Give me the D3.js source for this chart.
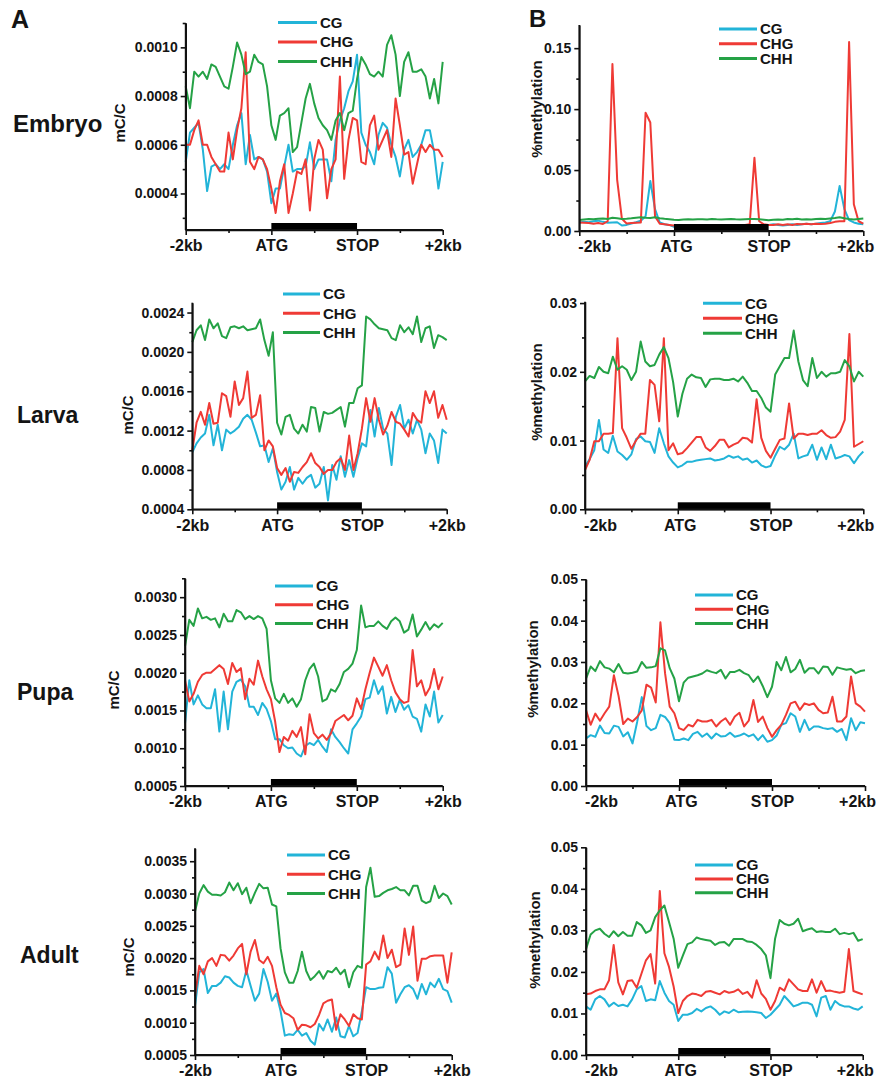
<!DOCTYPE html>
<html><head><meta charset="utf-8">
<script src="https://cdn.jsdelivr.net/npm/d3@7/dist/d3.min.js"></script>
<style>
body{margin:0;background:#fff}
svg{display:block}
text{font-family:"Liberation Sans",Arial,Helvetica,sans-serif;font-weight:bold;fill:#141414}
</style>
</head><body>
<svg id="chart" width="880" height="1082"></svg>
<script>
// ---------- categories / labels ----------
const xTickLabels = ["-2kb","ATG","STOP","+2kb"];
const seriesNames = ["CG","CHG","CHH"];
const seriesColors = ["#22b4d8","#ef3a35","#25a246"];
const stages = ["Embryo","Larva","Pupa","Adult"];

// ---------- A: mC/C ----------
const embryoA_CG = [0.00053,0.00065,0.00067,0.00069,0.00058,0.00041,0.00051,0.00052,0.0005,0.00052,
0.0005,0.0006,0.00068,0.00073,0.00052,0.00064,0.00054,0.00055,0.00054,0.00049,
0.00036,0.00042,0.00042,0.00051,0.0006,0.00049,0.0005,0.0005,0.00051,0.00061,
0.0005,0.00054,0.00054,0.00054,0.00045,0.00062,0.0007,0.00075,0.00082,0.00086,
0.00097,0.00065,0.0006,0.00057,0.00052,0.00064,0.00069,0.00067,0.0006,0.00055,
0.00047,0.00058,0.00062,0.00055,0.00057,0.0006,0.00066,0.00066,0.00057,0.00042,0.00053];
const embryoA_CHG = [0.0006,0.0006,0.00066,0.0007,0.0006,0.0006,0.00055,0.00052,0.00049,0.00049,
0.00065,0.00054,0.00066,0.00075,0.00098,0.00053,0.0005,0.00055,0.00054,0.0005,
0.00042,0.00032,0.00045,0.00052,0.00032,0.0004,0.00049,0.00048,0.00054,0.00033,
0.00054,0.00062,0.00058,0.00038,0.0005,0.00054,0.00088,0.00046,0.00062,0.00071,
0.0007,0.00053,0.00052,0.00068,0.00072,0.00058,0.00062,0.00066,0.00055,0.00079,
0.00068,0.00056,0.00057,0.00044,0.00052,0.0006,0.00057,0.0006,0.00058,0.00058,0.00055];
const embryoA_CHH = [0.00084,0.00075,0.0009,0.00088,0.0009,0.00087,0.00093,0.00092,0.00088,0.00084,
0.00083,0.00092,0.00102,0.00097,0.00089,0.0009,0.00097,0.00094,0.00093,0.00084,
0.00068,0.00062,0.00072,0.00073,0.00075,0.00057,0.00059,0.00069,0.00079,0.00085,
0.00077,0.00071,0.00068,0.00066,0.00062,0.0007,0.00073,0.00066,0.00073,0.00074,
0.00087,0.00096,0.00093,0.00089,0.00088,0.0009,0.00088,0.00101,0.00105,0.00097,
0.0008,0.00094,0.00098,0.0009,0.0009,0.00091,0.00088,0.00079,0.00087,0.00077,0.00094];

const larvaA_CG = [0.00098,0.00107,0.00113,0.00117,0.00136,0.00105,0.00126,0.001,0.00121,0.00117,
0.0012,0.00124,0.00132,0.00136,0.00131,0.00118,0.00104,0.00105,0.00088,0.00102,
0.00078,0.0006,0.00068,0.00083,0.0006,0.00072,0.00066,0.00072,0.00075,0.00062,
0.00066,0.00083,0.00049,0.00085,0.0007,0.00094,0.00073,0.0009,0.00073,0.00092,
0.00107,0.00104,0.00141,0.00114,0.00143,0.00122,0.00117,0.00085,0.00134,0.00146,
0.00122,0.00131,0.00117,0.00131,0.00121,0.00097,0.00117,0.0011,0.00087,0.00121,0.00117];
const larvaA_CHG = [0.001,0.00128,0.00139,0.00126,0.00148,0.00127,0.00128,0.00158,0.00155,0.00134,
0.0017,0.00146,0.00153,0.0018,0.00133,0.00136,0.00156,0.001,0.0011,0.00104,
0.00082,0.00075,0.00082,0.00068,0.00078,0.00077,0.00083,0.00088,0.00097,0.00087,
0.00083,0.00076,0.0008,0.0008,0.00088,0.00092,0.0008,0.00115,0.0008,0.00097,
0.00122,0.00153,0.00129,0.00153,0.00131,0.00116,0.00125,0.00139,0.00129,0.00127,
0.00121,0.00114,0.00138,0.00131,0.00128,0.0016,0.00148,0.0016,0.00133,0.00146,0.00131];
const larvaA_CHH = [0.0021,0.00222,0.00227,0.00212,0.00233,0.00224,0.00229,0.00216,0.00214,0.00225,
0.00226,0.00224,0.00226,0.00222,0.00223,0.00224,0.00233,0.00212,0.00196,0.0022,
0.00128,0.00116,0.00134,0.00136,0.00122,0.00117,0.00126,0.00119,0.00144,0.00143,
0.00119,0.00139,0.00137,0.00138,0.00141,0.00144,0.00124,0.00148,0.00148,0.00163,
0.00166,0.00236,0.00233,0.00228,0.00224,0.00223,0.00222,0.00214,0.00212,0.00227,
0.0022,0.00225,0.00218,0.00236,0.0021,0.00224,0.00226,0.00204,0.00217,0.00215,0.00212];

const pupaA_CG = [0.00133,0.0019,0.00158,0.0017,0.00158,0.00153,0.00153,0.00178,0.00122,0.00175,
0.00125,0.00175,0.00188,0.00191,0.00182,0.00155,0.00155,0.00144,0.0016,0.00152,
0.00136,0.00112,0.00112,0.00104,0.001,0.00101,0.00093,0.00089,0.00103,0.00107,
0.00104,0.00111,0.00102,0.00095,0.00125,0.00115,0.00108,0.001,0.00093,0.00125,
0.00133,0.00142,0.00165,0.00167,0.0019,0.00172,0.00182,0.00146,0.00168,0.00148,
0.00164,0.00151,0.00157,0.00142,0.00139,0.00122,0.00158,0.00142,0.00175,0.00134,0.00144];
const pupaA_CHG = [0.0019,0.00162,0.00172,0.00188,0.00197,0.002,0.002,0.00205,0.0021,0.00205,
0.00185,0.00213,0.00201,0.00206,0.00165,0.00192,0.00184,0.00216,0.00195,0.00178,
0.00165,0.00135,0.00095,0.00115,0.0011,0.00123,0.00115,0.00128,0.00092,0.00145,
0.0012,0.00113,0.00118,0.00111,0.0012,0.00136,0.0014,0.00144,0.00137,0.00143,
0.00166,0.00152,0.00178,0.002,0.0022,0.00208,0.00196,0.0021,0.0019,0.00174,
0.00165,0.0016,0.00162,0.0023,0.00182,0.0019,0.0017,0.0018,0.00205,0.00178,0.00195];
const pupaA_CHH = [0.00235,0.0027,0.00262,0.00285,0.00272,0.00274,0.0027,0.00272,0.0026,0.00278,
0.00268,0.00268,0.00283,0.0028,0.00271,0.00275,0.00271,0.00275,0.00272,0.00258,
0.0019,0.00166,0.0016,0.00172,0.0016,0.00166,0.00155,0.00165,0.0019,0.00205,
0.00212,0.00195,0.00162,0.00165,0.00178,0.00175,0.00185,0.00201,0.00205,0.00212,
0.0023,0.00289,0.0026,0.00262,0.00262,0.00268,0.00262,0.00258,0.00268,0.00273,
0.00268,0.00253,0.00257,0.00277,0.00248,0.00257,0.00267,0.00257,0.00264,0.0026,0.00266];

const adultA_CG = [0.00126,0.00178,0.00183,0.00146,0.00157,0.00157,0.00162,0.00172,0.0017,0.00162,
0.00157,0.00155,0.00181,0.00157,0.00134,0.00145,0.00183,0.00163,0.00134,0.00145,
0.00118,0.0008,0.00082,0.00081,0.00089,0.0008,0.00084,0.00072,0.00066,0.00098,
0.00088,0.00105,0.00086,0.00108,0.00079,0.00077,0.00095,0.00079,0.00084,0.00118,
0.00155,0.00152,0.00152,0.00154,0.00155,0.00186,0.00176,0.00131,0.00144,0.00155,
0.00158,0.00152,0.00137,0.0016,0.00144,0.00162,0.00155,0.00168,0.00152,0.00149,0.00131];
const adultA_CHG = [0.00141,0.00188,0.00175,0.00195,0.002,0.00188,0.00205,0.00204,0.00196,0.00204,
0.00215,0.00222,0.00175,0.0021,0.00228,0.00197,0.00192,0.00202,0.00188,0.00155,
0.00128,0.00115,0.00112,0.00107,0.00089,0.00097,0.00096,0.00093,0.00098,0.00112,
0.0013,0.00134,0.00136,0.00089,0.00113,0.00105,0.00095,0.00113,0.00107,0.00105,
0.0019,0.00195,0.0021,0.00198,0.00235,0.002,0.00213,0.00186,0.0019,0.00246,
0.00205,0.00249,0.00165,0.00199,0.00199,0.00203,0.00204,0.00204,0.00204,0.00162,0.00209];
const adultA_CHH = [0.00272,0.003,0.00313,0.00303,0.00298,0.00298,0.00297,0.00302,0.00317,0.00305,
0.00316,0.00299,0.00309,0.00285,0.00301,0.00315,0.00308,0.00309,0.00283,0.0028,
0.00215,0.00178,0.00162,0.00162,0.0018,0.0021,0.0018,0.00166,0.00172,0.0018,
0.00168,0.0018,0.00178,0.00185,0.00175,0.00182,0.00155,0.00178,0.00188,0.00185,
0.0031,0.0034,0.00295,0.00296,0.00301,0.00305,0.00307,0.0031,0.00305,0.00305,
0.00297,0.00312,0.00312,0.00289,0.00285,0.00288,0.00312,0.00293,0.003,0.00296,0.00283];

// ---------- B: %methylation ----------
const embryoB_CG = [0.007,0.0075,0.0072,0.008,0.0085,0.0075,0.0068,0.007,0.0072,0.0045,
0.005,0.0062,0.0072,0.0085,0.012,0.041,0.018,0.007,0.0055,0.005,
0.0035,0.003,0.0028,0.003,0.0032,0.003,0.0028,0.003,0.0031,0.003,
0.0029,0.003,0.0032,0.003,0.0031,0.003,0.0029,0.0032,0.0035,0.004,
0.005,0.0055,0.005,0.0045,0.005,0.0055,0.005,0.0055,0.006,0.0055,
0.006,0.0065,0.007,0.008,0.016,0.037,0.018,0.009,0.007,0.006,0.0055];
const embryoB_CHG = [0.007,0.0068,0.0065,0.006,0.0065,0.0058,0.008,0.137,0.042,0.01,
0.0062,0.0065,0.0068,0.007,0.097,0.089,0.012,0.006,0.0055,0.005,
0.0045,0.004,0.0042,0.004,0.0045,0.0042,0.004,0.0045,0.0042,0.004,
0.0045,0.0042,0.004,0.0045,0.0048,0.005,0.0055,0.06,0.008,0.0055,
0.005,0.005,0.0055,0.005,0.0055,0.005,0.0058,0.0055,0.006,0.0055,
0.006,0.0058,0.006,0.0065,0.0075,0.008,0.008,0.155,0.022,0.008,0.006];
const embryoB_CHH = [0.009,0.0095,0.0098,0.0096,0.01,0.0102,0.0098,0.0108,0.0105,0.0098,
0.01,0.0104,0.0109,0.0112,0.0108,0.0106,0.0112,0.0105,0.01,0.0097,
0.0093,0.0091,0.0095,0.0096,0.0094,0.0097,0.0096,0.0095,0.0098,0.0096,
0.0095,0.0097,0.0099,0.0096,0.0094,0.0096,0.0098,0.0099,0.0096,0.0092,
0.0088,0.0093,0.0095,0.0092,0.0098,0.0096,0.01,0.0095,0.0097,0.0094,
0.0098,0.0101,0.0099,0.0103,0.0106,0.0112,0.0104,0.0098,0.0095,0.0099,0.0103];

const larvaB_CG = [0.0062,0.0073,0.0086,0.013,0.0087,0.0082,0.0107,0.0084,0.0079,0.0072,
0.008,0.0102,0.0106,0.0099,0.0098,0.0082,0.0118,0.0096,0.0077,0.0068,
0.0061,0.0064,0.0069,0.0069,0.0071,0.0072,0.0073,0.0074,0.0071,0.0072,
0.0074,0.0078,0.0075,0.0077,0.0072,0.0074,0.0068,0.0071,0.0064,0.0061,
0.0063,0.0078,0.0091,0.0087,0.0094,0.011,0.0074,0.0077,0.0079,0.0094,
0.0072,0.009,0.0073,0.0094,0.0074,0.0076,0.0079,0.0077,0.0067,0.0077,0.0084];
const larvaB_CHG = [0.0057,0.0072,0.0099,0.0099,0.011,0.011,0.0111,0.0249,0.0118,0.0104,
0.0088,0.01,0.011,0.011,0.0188,0.0181,0.0128,0.0249,0.0086,0.0096,
0.008,0.0082,0.0089,0.0097,0.0105,0.0105,0.009,0.0085,0.0092,0.0101,
0.0101,0.009,0.0094,0.0097,0.0104,0.0103,0.0097,0.016,0.0104,0.0085,
0.0075,0.0088,0.0101,0.0103,0.0154,0.0103,0.011,0.011,0.0108,0.011,
0.011,0.0115,0.0108,0.0104,0.0105,0.0113,0.013,0.0255,0.0091,0.0095,0.0099];
const larvaB_CHH = [0.0186,0.0194,0.0191,0.0207,0.02,0.0198,0.0222,0.0203,0.0208,0.0203,
0.0188,0.02,0.0244,0.0215,0.0208,0.021,0.0225,0.0236,0.022,0.0185,
0.0135,0.0168,0.019,0.0196,0.0192,0.0191,0.0178,0.0189,0.019,0.019,
0.0188,0.0188,0.019,0.0186,0.0193,0.0184,0.0172,0.0172,0.0162,0.0148,
0.0142,0.0196,0.0208,0.022,0.022,0.026,0.0215,0.0188,0.0179,0.022,
0.0191,0.02,0.0193,0.0198,0.0198,0.02,0.0217,0.0208,0.0186,0.02,0.0193];

const pupaB_CG = [0.0115,0.0123,0.0119,0.0146,0.0128,0.0127,0.0146,0.0143,0.012,0.013,
0.0103,0.0155,0.0215,0.0145,0.0135,0.014,0.0172,0.0167,0.0152,0.0112,
0.0111,0.0115,0.0111,0.0126,0.0131,0.0119,0.0127,0.0115,0.0127,0.012,
0.0121,0.0129,0.0119,0.0122,0.0127,0.012,0.0125,0.0111,0.0123,0.0107,
0.0111,0.0122,0.0148,0.0152,0.0176,0.0168,0.0131,0.016,0.0135,0.0144,
0.0144,0.014,0.0138,0.014,0.0131,0.0138,0.0111,0.0164,0.0135,0.0154,0.0152];
const pupaB_CHG = [0.0184,0.0148,0.0175,0.0158,0.0176,0.0192,0.0268,0.0218,0.015,0.0163,
0.0156,0.0167,0.0183,0.0245,0.0238,0.0202,0.0396,0.0273,0.0192,0.0176,
0.014,0.0135,0.0148,0.0144,0.016,0.0156,0.0156,0.016,0.0144,0.0156,
0.0164,0.0148,0.0168,0.0177,0.0144,0.0158,0.0208,0.0155,0.0168,0.014,
0.0119,0.0135,0.0148,0.0172,0.02,0.0204,0.0184,0.02,0.0196,0.02,
0.0184,0.0176,0.0178,0.0216,0.0156,0.0156,0.0168,0.0265,0.02,0.0192,0.018];
const pupaB_CHH = [0.026,0.0289,0.0278,0.0302,0.0287,0.0284,0.0275,0.0295,0.0274,0.0272,
0.0274,0.0277,0.03,0.0286,0.0287,0.029,0.0333,0.0328,0.0285,0.026,
0.0205,0.025,0.0262,0.0265,0.0268,0.0272,0.028,0.0276,0.0273,0.0281,
0.026,0.0276,0.0276,0.0281,0.0273,0.0268,0.0252,0.0265,0.0242,0.0215,
0.024,0.03,0.028,0.0312,0.0275,0.0283,0.0305,0.0274,0.0285,0.0285,
0.0272,0.0289,0.0288,0.0269,0.0287,0.0284,0.0281,0.0283,0.0273,0.0278,0.028];

const adultB_CG = [0.0117,0.0109,0.0134,0.0142,0.0134,0.0117,0.0126,0.0118,0.0121,0.0117,
0.0134,0.0158,0.0166,0.013,0.0134,0.0132,0.0178,0.015,0.013,0.0121,
0.0082,0.0097,0.0097,0.0101,0.0111,0.0105,0.0113,0.0117,0.0109,0.0097,
0.0105,0.0101,0.0109,0.0103,0.0104,0.0105,0.0104,0.0103,0.0101,0.0089,
0.0097,0.0109,0.0121,0.0142,0.013,0.0117,0.0121,0.0126,0.0126,0.0121,
0.0093,0.0138,0.0142,0.0109,0.013,0.0121,0.0117,0.0117,0.0112,0.0109,0.0117];
const adultB_CHG = [0.0146,0.0148,0.0154,0.0158,0.0158,0.018,0.0265,0.0175,0.0146,0.0178,
0.018,0.0162,0.0195,0.0228,0.0243,0.0172,0.0395,0.0245,0.0212,0.0165,
0.0101,0.013,0.0142,0.0148,0.0146,0.0142,0.0152,0.0154,0.015,0.0146,
0.0154,0.015,0.0152,0.0158,0.0147,0.0152,0.0138,0.018,0.0148,0.0135,
0.0109,0.013,0.0162,0.0155,0.0182,0.017,0.0158,0.0154,0.0154,0.0182,
0.015,0.0178,0.0154,0.0155,0.0152,0.015,0.0152,0.0255,0.0154,0.015,0.0146];
const adultB_CHH = [0.0255,0.029,0.03,0.0304,0.0292,0.0284,0.0298,0.0286,0.0296,0.0287,
0.0287,0.032,0.0312,0.0294,0.03,0.0332,0.0348,0.036,0.032,0.028,
0.021,0.0239,0.0267,0.0271,0.0283,0.0279,0.0277,0.0275,0.0265,0.0271,
0.0272,0.0263,0.0279,0.0279,0.0279,0.0273,0.0272,0.0265,0.0255,0.024,
0.0185,0.028,0.0325,0.0316,0.0312,0.0316,0.0328,0.0298,0.0302,0.0305,
0.0296,0.0298,0.0296,0.0296,0.0304,0.0291,0.0294,0.0291,0.0294,0.0275,0.0279];

// ---------- y ticks ----------
const yTicksEmbryoA = [0.0004,0.0006,0.0008,0.0010];
const yTicksLarvaA  = [0.0004,0.0008,0.0012,0.0016,0.0020,0.0024];
const yTicksPupaA   = [0.0005,0.0010,0.0015,0.0020,0.0025,0.0030];
const yTicksAdultA  = [0.0005,0.0010,0.0015,0.0020,0.0025,0.0030,0.0035];
const yTicksEmbryoB = [0.00,0.05,0.10,0.15];
const yTicksLarvaB  = [0.00,0.01,0.02,0.03];
const yTicksPupaB   = [0.00,0.01,0.02,0.03,0.04,0.05];
const yTicksAdultB  = [0.00,0.01,0.02,0.03,0.04,0.05];

// ---------- panel layout ----------
const shiftA = [0,0,0,0], shiftB = [15,2,0,-8];
const panels = [
 {stage:0, series:[embryoA_CG,embryoA_CHG,embryoA_CHH], dom:[0.00025,0.0011], ticks:yTicksEmbryoA, fmt:".4f", minor:0.0001,
  box:[185.7,442.7,23,230], leg:[278,317,22.5,19.5], yl:["mC/C",125,123], st:[13,132,24], xs:shiftA},
 {stage:1, series:[larvaA_CG,larvaA_CHG,larvaA_CHH], dom:[0.0004,0.0025], ticks:yTicksLarvaA, fmt:".4f", minor:0.0002,
  box:[192.3,446.7,302.7,509.3], leg:[283,320,294,19.2], yl:["mC/C",133,415], st:[17,423,23], xs:shiftA},
 {stage:2, series:[pupaA_CG,pupaA_CHG,pupaA_CHH], dom:[0.0005,0.00325], ticks:yTicksPupaA, fmt:".4f", minor:0.00025,
  box:[185,442.7,578.3,786], leg:[275,313,586,18.7], yl:["mC/C",119,690], st:[17,700,23], xs:shiftA},
 {stage:3, series:[adultA_CG,adultA_CHG,adultA_CHH], dom:[0.0005,0.0037], ticks:yTicksAdultA, fmt:".4f", minor:0.00025,
  box:[195,451.7,848.3,1055], leg:[287,325,855,19.2], yl:["mC/C",134,957], st:[20,963,23], xs:shiftA},
 {series:[embryoB_CG,embryoB_CHG,embryoB_CHH], dom:[0,0.169], ticks:yTicksEmbryoB, fmt:".2f", minor:0.025,
  box:[579.3,863.3,25,231], leg:[719,757,29,14.7], yl:["%methylation",542,109], xs:shiftB},
 {series:[larvaB_CG,larvaB_CHG,larvaB_CHH], dom:[0,0.0302], ticks:yTicksLarvaB, fmt:".2f", minor:0.005,
  box:[585,863.3,301.7,509.3], leg:[703,742,303.3,15], yl:["%methylation",542,392], xs:shiftB},
 {series:[pupaB_CG,pupaB_CHG,pupaB_CHH], dom:[0,0.05], ticks:yTicksPupaB, fmt:".2f", minor:0.005,
  box:[586,865,579.3,786], leg:[695,733,595,14.2], yl:["%methylation",538,669], xs:shiftB},
 {series:[adultB_CG,adultB_CHG,adultB_CHH], dom:[0,0.05], ticks:yTicksAdultB, fmt:".2f", minor:0.005,
  box:[586,862.7,847.3,1055], leg:[695,733,865,13.9], yl:["%methylation",540,940], xs:shiftB}
];

const svg = d3.select("#chart");

// panel letters
svg.append("text").attr("x",11).attr("y",28).style("font-size","25px").text("A");
svg.append("text").attr("x",529).attr("y",27).style("font-size","24px").text("B");

panels.forEach(p => {
  const [x0,x1,y0,y1] = p.box;
  const g = svg.append("g");
  const x = d3.scaleLinear().domain([0,3]).range([x0,x1]);
  const y = d3.scaleLinear().domain(p.dom).range([y1,y0]);

  // lines
  p.series.forEach((vals,si) => {
    const n = vals.length;
    const line = d3.line().x((d,i)=>x(i*3/(n-1))).y(d=>y(d));
    g.append("path").datum(vals).attr("d",line)
      .attr("fill","none").attr("stroke",seriesColors[si])
      .attr("stroke-width",2).attr("stroke-linejoin","round");
  });

  // gene body bar (ATG..STOP)
  g.append("rect").attr("x",x(1)).attr("width",x(2)-x(1))
    .attr("y",y1-7).attr("height",7).attr("fill","#000");

  // minor ticks
  const eps = 1e-9;
  const minorVals = d3.range(Math.ceil(p.dom[0]/p.minor - eps), Math.floor(p.dom[1]/p.minor + eps)+1)
      .map(k=>k*p.minor)
      .filter(v => !p.ticks.some(t=>Math.abs(t-v)<p.minor*0.01));
  const yMinor = g.append("g").attr("transform",`translate(${x0},0)`)
      .call(d3.axisLeft(y).tickValues(minorVals).tickSize(3).tickSizeOuter(0).tickFormat(""));
  yMinor.select(".domain").remove();
  const yAx = g.append("g").attr("transform",`translate(${x0},0)`)
      .call(d3.axisLeft(y).tickValues(p.ticks).tickSize(5).tickSizeOuter(0).tickPadding(3).tickFormat(d3.format(p.fmt)));
  const xMinor = g.append("g").attr("transform",`translate(0,${y1})`)
      .call(d3.axisBottom(x).tickValues([0.5,1.5,2.5]).tickSize(3).tickSizeOuter(0).tickFormat(""));
  xMinor.select(".domain").remove();
  const xAx = g.append("g").attr("transform",`translate(0,${y1})`)
      .call(d3.axisBottom(x).tickValues([0,1,2,3]).tickSize(5).tickSizeOuter(0).tickPadding(5)
      .tickFormat((d,i)=>xTickLabels[i]));
  [yAx,xAx,yMinor,xMinor].forEach(a=>{
    a.selectAll("path,line").attr("stroke","#111").attr("stroke-width",1.6);
  });
  yAx.selectAll("text").style("font-size","14px").attr("fill","#141414");
  xAx.selectAll("text").style("font-size","16px").attr("fill","#141414")
     .attr("dx",(d,i)=>p.xs[i]);
  // axis lines spanning the frame
  g.append("line").attr("x1",x0).attr("x2",x0).attr("y1",y0).attr("y2",y1)
    .attr("stroke","#111").attr("stroke-width",1.8);
  g.append("line").attr("x1",x0).attr("x2",x1).attr("y1",y1).attr("y2",y1)
    .attr("stroke","#111").attr("stroke-width",1.8);

  // y axis title
  g.append("text").attr("transform",`translate(${p.yl[1]},${p.yl[2]}) rotate(-90)`)
    .attr("text-anchor","middle").style("font-size","15px").text(p.yl[0]);

  // stage label
  if (p.stage !== undefined) {
    g.append("text").attr("x",p.st[0]).attr("y",p.st[1]).style("font-size",p.st[2]+"px").text(stages[p.stage]);
  }

  // legend
  const [lx0,lx1,ly,ldy] = p.leg;
  seriesNames.forEach((nm,si)=>{
    const yy = ly + si*ldy;
    g.append("line").attr("x1",lx0).attr("x2",lx1).attr("y1",yy).attr("y2",yy)
      .attr("stroke",seriesColors[si]).attr("stroke-width",3);
    g.append("text").attr("x",lx1+3).attr("y",yy).attr("dy","0.36em")
      .style("font-size","15px").text(nm);
  });
});
</script>
</body></html>
